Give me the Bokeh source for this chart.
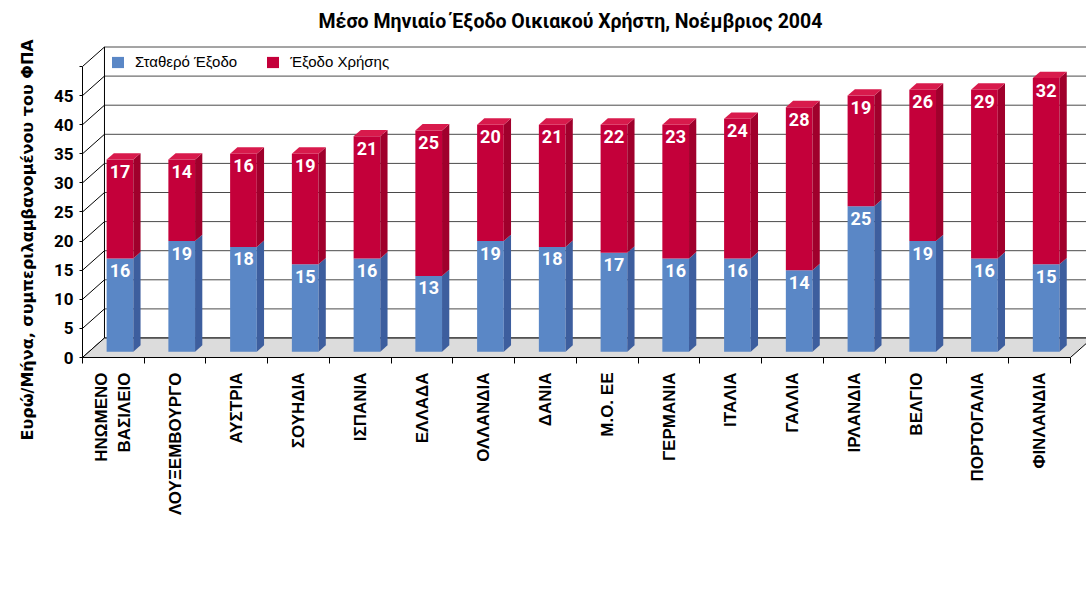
import math
import numpy as np
from bokeh.plotting import figure
from bokeh.models import Range1d, FixedTicker, Legend, LegendItem, Title, ColumnDataSource
from bokeh.embed import file_html
from bokeh.resources import INLINE
from bokeh.core.properties import value

# ---------------- data ----------------
categories = ["ΗΝΩΜΕΝΟ\nΒΑΣΙΛΕΙΟ", "ΛΟΥΞΕΜΒΟΥΡΓΟ", "ΑΥΣΤΡΙΑ", "ΣΟΥΗΔΙΑ", "ΙΣΠΑΝΙΑ",
              "ΕΛΛΑΔΑ", "ΟΛΛΑΝΔΙΑ", "ΔΑΝΙΑ", "Μ.Ο. ΕΕ", "ΓΕΡΜΑΝΙΑ", "ΙΤΑΛΙΑ",
              "ΓΑΛΛΙΑ", "ΙΡΛΑΝΔΙΑ", "ΒΕΛΓΙΟ", "ΠΟΡΤΟΓΑΛΙΑ", "ΦΙΝΛΑΝΔΙΑ"]
fixed_cost = [16, 19, 18, 15, 16, 13, 19, 18, 17, 16, 16, 14, 25, 19, 16, 15]
usage_cost = [17, 14, 16, 19, 21, 25, 20, 21, 22, 23, 24, 28, 19, 26, 29, 32]
series_names = ["Σταθερό Έξοδο", "Έξοδο Χρήσης"]
y_ticks = [0, 5, 10, 15, 20, 25, 30, 35, 40, 45, 50]
y_tick_labels = ["0", "5", "10", "15", "20", "25", "30", "35", "40", "45", ""]
title_text = "Μέσο Μηνιαίο Έξοδο Οικιακού Χρήστη, Νοέμβριος 2004"
y_title = "Ευρώ/Μήνα, συμπεριλαμβανομένου του ΦΠΑ"

# ---------------- geometry / style ----------------
N = len(categories)
X_END = 16.26          # x range end (category units)
Y_END = 53.78          # y range end (value units)
DX, DY = 0.356, 3.35   # full depth of the 3D box in data units
Z0, Z1 = 0.30, 0.63    # bar depth position (fraction of box depth)
BAR_W = 0.432
WALL_TOP = y_ticks[-1]

BLUE_FRONT, BLUE_SIDE = "#5a87c6", "#3d5e9e"
RED_FRONT, RED_SIDE, RED_TOP = "#c4003a", "#a0002c", "#d81a4c"
GRID = "#4a4a4a"

p = figure(frame_width=1004, frame_height=313,
           x_range=Range1d(0, X_END), y_range=Range1d(0, Y_END),
           output_backend="svg", toolbar_location=None,
           min_border_left=82, min_border_right=0, min_border_top=44, min_border_bottom=244)
p.outline_line_color = None
p.grid.visible = False
p.background_fill_color = "white"

# ---- 3D box: back wall grid, left wall diagonals, floor ----
ticks = np.array(y_ticks, dtype=float)
p.segment(x0=[DX] * len(ticks), y0=ticks + DY, x1=[N + DX] * len(ticks), y1=ticks + DY,
          line_color=GRID, line_width=1)
p.segment(x0=[0] * len(ticks), y0=ticks, x1=[DX] * len(ticks), y1=ticks + DY,
          line_color="black", line_width=1)
p.segment(x0=[DX], y0=[DY], x1=[DX], y1=[WALL_TOP + DY], line_color="black", line_width=1)
p.patch(x=[0, N, N + DX, DX], y=[0, 0, DY, DY], fill_color="#dcdcdc", line_color=None)
p.segment(x0=[0, N, DX], y0=[0, 0, DY], x1=[DX, N + DX, N + DX], y1=[DY, DY, DY],
          line_color="black", line_width=1)

# ---- bars ----
idx = np.arange(N)
left = idx + 0.5 - BAR_W / 2 + Z0 * DX
right = left + BAR_W
fixed = np.array(fixed_cost, dtype=float)
usage = np.array(usage_cost, dtype=float)
layers = [(np.zeros(N), fixed, BLUE_FRONT, BLUE_SIDE),
          (fixed, fixed + usage, RED_FRONT, RED_SIDE)]

front_renderers = []
for k, (bot, top, fc, sc) in enumerate(layers):
    src = ColumnDataSource(dict(left=left, right=right, bottom=bot + Z0 * DY, top=top + Z0 * DY))
    r = p.quad(left="left", right="right", bottom="bottom", top="top", source=src,
               fill_color=fc, line_color=None)
    front_renderers.append(r)
    sx = [[r0, r0 + (Z1 - Z0) * DX, r0 + (Z1 - Z0) * DX, r0] for r0 in right]
    sy = [[b + Z0 * DY, b + Z1 * DY, t + Z1 * DY, t + Z0 * DY] for b, t in zip(bot, top)]
    p.patches(xs=sx, ys=sy, fill_color=sc, line_color=None)
    if k == len(layers) - 1:
        tx = [[l0, r0, r0 + (Z1 - Z0) * DX, l0 + (Z1 - Z0) * DX] for l0, r0 in zip(left, right)]
        ty = [[t + Z0 * DY, t + Z0 * DY, t + Z1 * DY, t + Z1 * DY] for t in top]
        p.patches(xs=tx, ys=ty, fill_color=RED_TOP, line_color=None)

    lbl = ColumnDataSource(dict(x=(left + right) / 2, y=top + Z0 * DY,
                                t=[f"{v:.0f}" for v in (top - bot)]))
    p.text(x="x", y="y", text="t", source=lbl, text_color="white", text_align="center",
           text_baseline="middle", y_offset=12, text_font=value("Roboto"),
           text_font_style="bold", text_font_size="18px")

# ---- axes ----
yax = p.yaxis[0]
yax.ticker = FixedTicker(ticks=y_ticks)
yax.major_label_overrides = {t: s for t, s in zip(y_ticks, y_tick_labels)}
yax.bounds = (0, WALL_TOP)
yax.major_tick_out = 3
yax.major_tick_in = 0
yax.minor_tick_line_color = None
yax.major_label_standoff = 6
yax.major_label_text_font = "Roboto"
yax.major_label_text_font_style = "bold"
yax.major_label_text_font_size = "17px"
yax.major_label_text_color = "black"
yax.axis_line_color = "black"

xax = p.xaxis[0]
xax.ticker = FixedTicker(ticks=[i + 0.5 for i in range(N)], minor_ticks=list(range(N + 1)))
xax.major_label_overrides = {i + 0.5: c for i, c in enumerate(categories)}
xax.bounds = (0, N)
xax.major_tick_out = 0
xax.major_tick_in = 0
xax.minor_tick_out = 6
xax.minor_tick_in = 0
xax.minor_tick_line_color = "black"
xax.major_label_orientation = math.pi / 2
xax.major_label_standoff = 9
xax.major_label_text_font = "Liberation Sans"
xax.major_label_text_font_style = "bold"
xax.major_label_text_font_size = "17px"
xax.major_label_text_color = "black"
xax.axis_line_color = "black"

# ---- titles ----
p.title.text = title_text
p.title.align = "left"
p.title.offset = 236
p.title.vertical_align = "top"
p.title.standoff = 19
p.title.text_color = "black"
p.title.text_font = "Roboto"
p.title.text_font_style = "bold"
p.title.text_font_size = "19.5px"

p.add_layout(Title(text=y_title, align="left", offset=-83, standoff=24, vertical_align="top",
                   text_color="black", text_font="DejaVu Sans", text_font_style="bold",
                   text_font_size="16px"), "left")

# ---- legend (inside the frame, in the empty band above the first bars) ----
legend = Legend(items=[LegendItem(label=series_names[0], renderers=[front_renderers[0]]),
                       LegendItem(label=series_names[1], renderers=[front_renderers[1]])],
                orientation="horizontal", location=(28, 287),
                glyph_width=15, glyph_height=14, label_standoff=10, spacing=28,
                padding=0, margin=0, border_line_alpha=0, background_fill_alpha=0,
                label_text_font="Liberation Sans", label_text_font_size="15px",
                label_text_color="black", label_height=14)
p.add_layout(legend)

open("out.html", "w").write(file_html(p, INLINE))
